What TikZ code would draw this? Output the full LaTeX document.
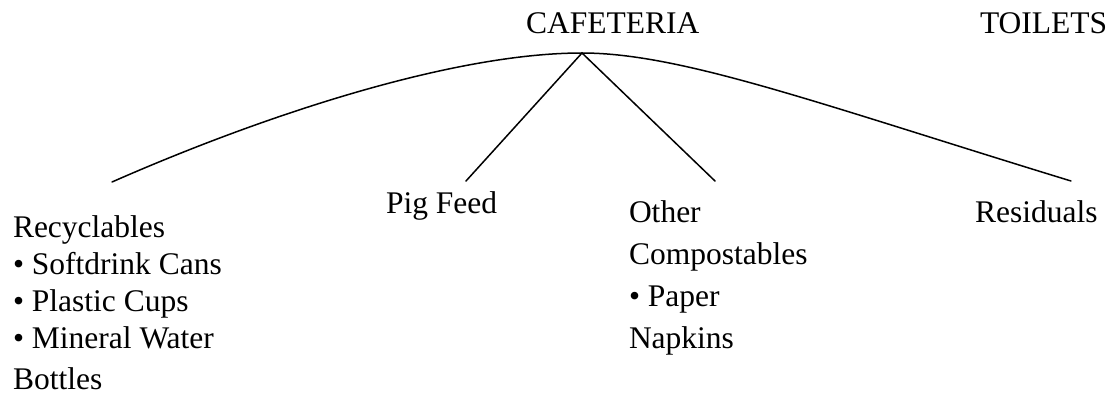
\documentclass[tikz,border=0pt]{standalone}
\usepackage{fontspec}
\setmainfont{Liberation Serif}
\begin{document}
\begin{tikzpicture}[x=1pt,y=-1pt,
  lbl/.style={inner sep=0pt,outer sep=0pt,anchor=base west,align=left,font=\fontsize{31.5}{37}\selectfont},
  lbltall/.style={lbl,font=\fontsize{31.5}{42}\selectfont},
  branch/.style={line width=1.5pt,line cap=round,line join=miter}]
\useasboundingbox (0,0) rectangle (1109,396);
% labels (multi-line nodes are anchored at the baseline of their last line)
\node[lbl] (caf) at (526,34) {CAFETERIA};
\node[lbl] (toi) at (980,34) {TOILETS};
\node[lbl] (pig) at (386,213) {Pig Feed};
\node[lbl] (rec) at (13,389) {Recyclables\\\textbullet\ Softdrink Cans\\\textbullet\ Plastic Cups\\\textbullet\ Mineral Water\\[4pt]Bottles};
\node[lbltall] (oth) at (629,348) {Other\\Compostables\\\textbullet\ Paper\\Napkins};
\node[lbl] (res) at (975,222) {Residuals};
% connector points
\coordinate (apex) at (582,53);
\coordinate (lend) at (112,182);
\coordinate (pend) at (466,181);
\coordinate (oend) at (715,181);
\coordinate (rend) at (1071,181);
\draw[branch] (lend) .. controls (262,116) and (452,53) .. (apex)
  .. controls (682,53) and (821,104.5) .. (rend);
\draw[branch] (pend) -- (apex) -- (oend);
\end{tikzpicture}
\end{document}
